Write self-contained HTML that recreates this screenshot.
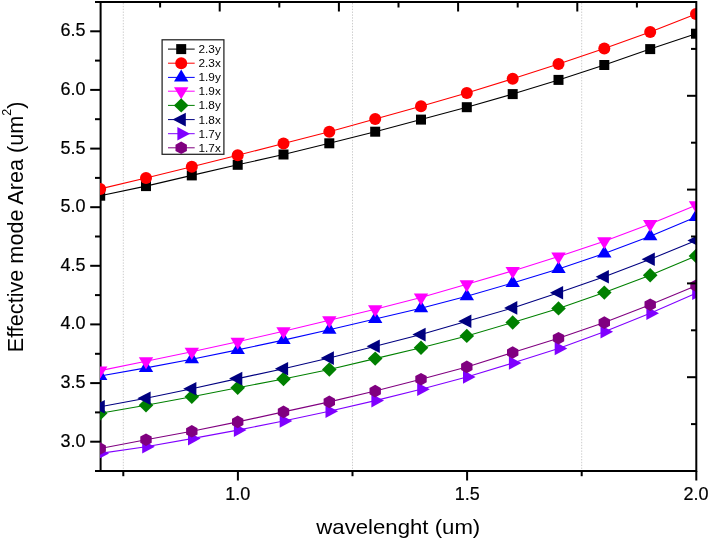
<!DOCTYPE html>
<html><head><meta charset="utf-8"><title>Effective mode area</title>
<style>html,body{margin:0;padding:0;background:#fff}svg{display:block}</style></head>
<body>
<svg width="711" height="541" viewBox="0 0 711 541" font-family="'Liberation Sans', sans-serif">
<rect width="711" height="541" fill="#fff"/>
<defs><clipPath id="pc"><rect x="100" y="2" width="597" height="469"/></clipPath></defs>
<line x1="123.3" y1="3" x2="123.3" y2="470" stroke="#cccccc" stroke-width="1" stroke-dasharray="1.4,1.45"/>
<line x1="352.5" y1="3" x2="352.5" y2="470" stroke="#cccccc" stroke-width="1" stroke-dasharray="1.4,1.45"/>
<line x1="581.7" y1="3" x2="581.7" y2="470" stroke="#cccccc" stroke-width="1" stroke-dasharray="1.4,1.45"/>
<g fill="#000">
<rect x="99.6" y="1" width="2" height="471"/>
<rect x="95" y="470" width="602" height="2"/>
<rect x="90.2" y="440.7" width="10.4" height="2"/>
<rect x="95" y="411.4" width="5.6" height="2"/>
<rect x="90.2" y="382.1" width="10.4" height="2"/>
<rect x="95" y="352.8" width="5.6" height="2"/>
<rect x="90.2" y="323.4" width="10.4" height="2"/>
<rect x="95" y="294.1" width="5.6" height="2"/>
<rect x="90.2" y="264.8" width="10.4" height="2"/>
<rect x="95" y="235.5" width="5.6" height="2"/>
<rect x="90.2" y="206.2" width="10.4" height="2"/>
<rect x="95" y="176.9" width="5.6" height="2"/>
<rect x="90.2" y="147.6" width="10.4" height="2"/>
<rect x="95" y="118.2" width="5.6" height="2"/>
<rect x="90.2" y="88.9" width="10.4" height="2"/>
<rect x="95" y="59.6" width="5.6" height="2"/>
<rect x="90.2" y="30.3" width="10.4" height="2"/>
<rect x="122.3" y="471" width="2" height="5.2"/>
<rect x="236.9" y="471" width="2" height="9.5"/>
<rect x="351.5" y="471" width="2" height="5.2"/>
<rect x="466.1" y="471" width="2" height="9.5"/>
<rect x="580.7" y="471" width="2" height="5.2"/>
<rect x="695.3" y="471" width="2" height="9.5"/>
</g>
<g clip-path="url(#pc)">
<polyline points="100.2,195.7 146.0,186.1 191.8,175.4 237.7,164.8 283.5,154.5 329.3,143.3 375.2,131.7 421.0,119.6 466.8,107.2 512.7,94.1 558.5,79.9 604.3,65.0 650.2,49.1 696.0,33.7" fill="none" stroke="#000000" stroke-width="1.08"/>
<rect x="95.2" y="190.7" width="10" height="10" fill="#000000"/>
<rect x="141.0" y="181.1" width="10" height="10" fill="#000000"/>
<rect x="186.8" y="170.4" width="10" height="10" fill="#000000"/>
<rect x="232.7" y="159.8" width="10" height="10" fill="#000000"/>
<rect x="278.5" y="149.5" width="10" height="10" fill="#000000"/>
<rect x="324.3" y="138.3" width="10" height="10" fill="#000000"/>
<rect x="370.2" y="126.7" width="10" height="10" fill="#000000"/>
<rect x="416.0" y="114.6" width="10" height="10" fill="#000000"/>
<rect x="461.8" y="102.2" width="10" height="10" fill="#000000"/>
<rect x="507.7" y="89.1" width="10" height="10" fill="#000000"/>
<rect x="553.5" y="74.9" width="10" height="10" fill="#000000"/>
<rect x="599.3" y="60.0" width="10" height="10" fill="#000000"/>
<rect x="645.2" y="44.1" width="10" height="10" fill="#000000"/>
<rect x="691.0" y="28.7" width="10" height="10" fill="#000000"/>
<polyline points="100.2,188.9 146.0,178.0 191.8,166.8 237.7,155.2 283.5,143.6 329.3,131.7 375.2,119.0 421.0,106.3 466.8,92.9 512.7,78.8 558.5,64.1 604.3,48.4 650.2,31.9 696.0,13.9" fill="none" stroke="#ff0000" stroke-width="1.08"/>
<circle cx="100.2" cy="188.9" r="6" fill="#ff0000"/>
<circle cx="146.0" cy="178.0" r="6" fill="#ff0000"/>
<circle cx="191.8" cy="166.8" r="6" fill="#ff0000"/>
<circle cx="237.7" cy="155.2" r="6" fill="#ff0000"/>
<circle cx="283.5" cy="143.6" r="6" fill="#ff0000"/>
<circle cx="329.3" cy="131.7" r="6" fill="#ff0000"/>
<circle cx="375.2" cy="119.0" r="6" fill="#ff0000"/>
<circle cx="421.0" cy="106.3" r="6" fill="#ff0000"/>
<circle cx="466.8" cy="92.9" r="6" fill="#ff0000"/>
<circle cx="512.7" cy="78.8" r="6" fill="#ff0000"/>
<circle cx="558.5" cy="64.1" r="6" fill="#ff0000"/>
<circle cx="604.3" cy="48.4" r="6" fill="#ff0000"/>
<circle cx="650.2" cy="31.9" r="6" fill="#ff0000"/>
<circle cx="696.0" cy="13.9" r="6" fill="#ff0000"/>
<polyline points="100.2,376.0 146.0,367.9 191.8,359.2 237.7,349.9 283.5,340.1 329.3,329.8 375.2,319.0 421.0,308.3 466.8,296.2 512.7,283.0 558.5,269.1 604.3,253.5 650.2,236.2 696.0,217.1" fill="none" stroke="#0000ff" stroke-width="1.08"/>
<polygon points="93.0,380.0 107.4,380.0 100.2,368.0" fill="#0000ff"/>
<polygon points="138.8,371.9 153.2,371.9 146.0,359.9" fill="#0000ff"/>
<polygon points="184.6,363.2 199.0,363.2 191.8,351.2" fill="#0000ff"/>
<polygon points="230.5,353.9 244.9,353.9 237.7,341.9" fill="#0000ff"/>
<polygon points="276.3,344.1 290.7,344.1 283.5,332.1" fill="#0000ff"/>
<polygon points="322.1,333.8 336.5,333.8 329.3,321.8" fill="#0000ff"/>
<polygon points="368.0,323.0 382.4,323.0 375.2,311.0" fill="#0000ff"/>
<polygon points="413.8,312.3 428.2,312.3 421.0,300.3" fill="#0000ff"/>
<polygon points="459.6,300.2 474.0,300.2 466.8,288.2" fill="#0000ff"/>
<polygon points="505.5,287.0 519.9,287.0 512.7,275.0" fill="#0000ff"/>
<polygon points="551.3,273.1 565.7,273.1 558.5,261.1" fill="#0000ff"/>
<polygon points="597.1,257.5 611.5,257.5 604.3,245.5" fill="#0000ff"/>
<polygon points="643.0,240.2 657.4,240.2 650.2,228.2" fill="#0000ff"/>
<polygon points="688.8,221.1 703.2,221.1 696.0,209.1" fill="#0000ff"/>
<polyline points="100.2,370.6 146.0,361.3 191.8,351.7 237.7,341.8 283.5,331.2 329.3,320.2 375.2,309.2 421.0,297.4 466.8,284.2 512.7,270.9 558.5,256.6 604.3,241.3 650.2,224.0 696.0,205.2" fill="none" stroke="#ff00ff" stroke-width="1.08"/>
<polygon points="93.0,366.6 107.4,366.6 100.2,378.6" fill="#ff00ff"/>
<polygon points="138.8,357.3 153.2,357.3 146.0,369.3" fill="#ff00ff"/>
<polygon points="184.6,347.7 199.0,347.7 191.8,359.7" fill="#ff00ff"/>
<polygon points="230.5,337.8 244.9,337.8 237.7,349.8" fill="#ff00ff"/>
<polygon points="276.3,327.2 290.7,327.2 283.5,339.2" fill="#ff00ff"/>
<polygon points="322.1,316.2 336.5,316.2 329.3,328.2" fill="#ff00ff"/>
<polygon points="368.0,305.2 382.4,305.2 375.2,317.2" fill="#ff00ff"/>
<polygon points="413.8,293.4 428.2,293.4 421.0,305.4" fill="#ff00ff"/>
<polygon points="459.6,280.2 474.0,280.2 466.8,292.2" fill="#ff00ff"/>
<polygon points="505.5,266.9 519.9,266.9 512.7,278.9" fill="#ff00ff"/>
<polygon points="551.3,252.6 565.7,252.6 558.5,264.6" fill="#ff00ff"/>
<polygon points="597.1,237.3 611.5,237.3 604.3,249.3" fill="#ff00ff"/>
<polygon points="643.0,220.0 657.4,220.0 650.2,232.0" fill="#ff00ff"/>
<polygon points="688.8,201.2 703.2,201.2 696.0,213.2" fill="#ff00ff"/>
<polyline points="100.2,413.2 146.0,405.3 191.8,396.8 237.7,387.8 283.5,379.0 329.3,369.5 375.2,358.6 421.0,347.7 466.8,335.9 512.7,322.5 558.5,308.4 604.3,292.6 650.2,275.2 696.0,256.0" fill="none" stroke="#008000" stroke-width="1.08"/>
<polygon points="92.9,413.2 100.2,406.0 107.5,413.2 100.2,420.4" fill="#008000"/>
<polygon points="138.7,405.3 146.0,398.1 153.3,405.3 146.0,412.5" fill="#008000"/>
<polygon points="184.5,396.8 191.8,389.6 199.1,396.8 191.8,404.0" fill="#008000"/>
<polygon points="230.4,387.8 237.7,380.6 245.0,387.8 237.7,395.0" fill="#008000"/>
<polygon points="276.2,379.0 283.5,371.8 290.8,379.0 283.5,386.2" fill="#008000"/>
<polygon points="322.0,369.5 329.3,362.3 336.6,369.5 329.3,376.7" fill="#008000"/>
<polygon points="367.9,358.6 375.2,351.4 382.5,358.6 375.2,365.8" fill="#008000"/>
<polygon points="413.7,347.7 421.0,340.5 428.3,347.7 421.0,354.9" fill="#008000"/>
<polygon points="459.5,335.9 466.8,328.7 474.1,335.9 466.8,343.1" fill="#008000"/>
<polygon points="505.4,322.5 512.7,315.3 520.0,322.5 512.7,329.7" fill="#008000"/>
<polygon points="551.2,308.4 558.5,301.2 565.8,308.4 558.5,315.6" fill="#008000"/>
<polygon points="597.0,292.6 604.3,285.4 611.6,292.6 604.3,299.8" fill="#008000"/>
<polygon points="642.9,275.2 650.2,268.0 657.5,275.2 650.2,282.4" fill="#008000"/>
<polygon points="688.7,256.0 696.0,248.8 703.3,256.0 696.0,263.2" fill="#008000"/>
<polyline points="100.2,406.8 146.0,398.2 191.8,388.8 237.7,378.6 283.5,368.7 329.3,358.1 375.2,346.3 421.0,334.6 466.8,321.3 512.7,307.9 558.5,292.7 604.3,276.8 650.2,259.3 696.0,240.5" fill="none" stroke="#000080" stroke-width="1.08"/>
<polygon points="91.6,406.8 104.8,400.0 104.8,413.6" fill="#000080"/>
<polygon points="137.4,398.2 150.6,391.4 150.6,405.0" fill="#000080"/>
<polygon points="183.2,388.8 196.4,382.0 196.4,395.6" fill="#000080"/>
<polygon points="229.1,378.6 242.3,371.8 242.3,385.4" fill="#000080"/>
<polygon points="274.9,368.7 288.1,361.9 288.1,375.5" fill="#000080"/>
<polygon points="320.7,358.1 333.9,351.3 333.9,364.9" fill="#000080"/>
<polygon points="366.6,346.3 379.8,339.5 379.8,353.1" fill="#000080"/>
<polygon points="412.4,334.6 425.6,327.8 425.6,341.4" fill="#000080"/>
<polygon points="458.2,321.3 471.4,314.5 471.4,328.1" fill="#000080"/>
<polygon points="504.1,307.9 517.3,301.1 517.3,314.7" fill="#000080"/>
<polygon points="549.9,292.7 563.1,285.9 563.1,299.5" fill="#000080"/>
<polygon points="595.7,276.8 608.9,270.0 608.9,283.6" fill="#000080"/>
<polygon points="641.6,259.3 654.8,252.5 654.8,266.1" fill="#000080"/>
<polygon points="687.4,240.5 700.6,233.7 700.6,247.3" fill="#000080"/>
<polyline points="100.2,453.4 146.0,446.7 191.8,438.6 237.7,430.1 283.5,421.0 329.3,411.2 375.2,400.6 421.0,389.2 466.8,376.9 512.7,363.0 558.5,348.4 604.3,331.8 650.2,313.3 696.0,293.2" fill="none" stroke="#8000ff" stroke-width="1.08"/>
<polygon points="109.0,453.4 96.4,446.6 96.4,460.2" fill="#8000ff"/>
<polygon points="154.8,446.7 142.2,439.9 142.2,453.5" fill="#8000ff"/>
<polygon points="200.6,438.6 188.0,431.8 188.0,445.4" fill="#8000ff"/>
<polygon points="246.5,430.1 233.9,423.3 233.9,436.9" fill="#8000ff"/>
<polygon points="292.3,421.0 279.7,414.2 279.7,427.8" fill="#8000ff"/>
<polygon points="338.1,411.2 325.5,404.4 325.5,418.0" fill="#8000ff"/>
<polygon points="384.0,400.6 371.4,393.8 371.4,407.4" fill="#8000ff"/>
<polygon points="429.8,389.2 417.2,382.4 417.2,396.0" fill="#8000ff"/>
<polygon points="475.6,376.9 463.0,370.1 463.0,383.7" fill="#8000ff"/>
<polygon points="521.5,363.0 508.9,356.2 508.9,369.8" fill="#8000ff"/>
<polygon points="567.3,348.4 554.7,341.6 554.7,355.2" fill="#8000ff"/>
<polygon points="613.1,331.8 600.5,325.0 600.5,338.6" fill="#8000ff"/>
<polygon points="659.0,313.3 646.4,306.5 646.4,320.1" fill="#8000ff"/>
<polygon points="704.8,293.2 692.2,286.4 692.2,300.0" fill="#8000ff"/>
<polyline points="100.2,448.5 146.0,439.7 191.8,431.3 237.7,421.9 283.5,411.9 329.3,401.9 375.2,391.1 421.0,379.2 466.8,366.9 512.7,352.5 558.5,338.2 604.3,322.6 650.2,304.7 696.0,285.7" fill="none" stroke="#800080" stroke-width="1.08"/>
<polygon points="100.2,442.2 105.9,445.4 105.9,451.6 100.2,454.8 94.5,451.6 94.5,445.4" fill="#800080"/>
<polygon points="146.0,433.4 151.7,436.6 151.7,442.8 146.0,446.0 140.3,442.8 140.3,436.6" fill="#800080"/>
<polygon points="191.8,425.0 197.5,428.2 197.5,434.4 191.8,437.6 186.1,434.4 186.1,428.2" fill="#800080"/>
<polygon points="237.7,415.6 243.4,418.8 243.4,425.0 237.7,428.2 232.0,425.0 232.0,418.8" fill="#800080"/>
<polygon points="283.5,405.6 289.2,408.8 289.2,415.0 283.5,418.2 277.8,415.0 277.8,408.8" fill="#800080"/>
<polygon points="329.3,395.6 335.0,398.8 335.0,405.0 329.3,408.2 323.6,405.0 323.6,398.8" fill="#800080"/>
<polygon points="375.2,384.8 380.9,388.0 380.9,394.2 375.2,397.4 369.5,394.2 369.5,388.0" fill="#800080"/>
<polygon points="421.0,372.9 426.7,376.1 426.7,382.3 421.0,385.5 415.3,382.3 415.3,376.1" fill="#800080"/>
<polygon points="466.8,360.6 472.5,363.8 472.5,370.0 466.8,373.2 461.1,370.0 461.1,363.8" fill="#800080"/>
<polygon points="512.7,346.2 518.4,349.4 518.4,355.6 512.7,358.8 507.0,355.6 507.0,349.4" fill="#800080"/>
<polygon points="558.5,331.9 564.2,335.1 564.2,341.3 558.5,344.5 552.8,341.3 552.8,335.1" fill="#800080"/>
<polygon points="604.3,316.3 610.0,319.5 610.0,325.7 604.3,328.9 598.6,325.7 598.6,319.5" fill="#800080"/>
<polygon points="650.2,298.4 655.9,301.6 655.9,307.8 650.2,311.0 644.5,307.8 644.5,301.6" fill="#800080"/>
<polygon points="696.0,279.4 701.7,282.6 701.7,288.8 696.0,292.0 690.3,288.8 690.3,282.6" fill="#800080"/>
</g>
<g fill="#000">
<rect x="695.3" y="1" width="2" height="471"/>
<rect x="95" y="1" width="602" height="2"/>
<rect x="159.1" y="2" width="2" height="5.5"/>
<rect x="218.7" y="2" width="2" height="9.5"/>
<rect x="278.3" y="2" width="2" height="5.5"/>
<rect x="337.9" y="2" width="2" height="9.5"/>
<rect x="397.5" y="2" width="2" height="5.5"/>
<rect x="457.1" y="2" width="2" height="9.5"/>
<rect x="516.7" y="2" width="2" height="5.5"/>
<rect x="576.3" y="2" width="2" height="9.5"/>
<rect x="635.9" y="2" width="2" height="5.5"/>
<rect x="691.0" y="47.9" width="5.3" height="2"/>
<rect x="687.0" y="94.8" width="9.3" height="2"/>
<rect x="691.0" y="141.7" width="5.3" height="2"/>
<rect x="687.0" y="188.6" width="9.3" height="2"/>
<rect x="691.0" y="235.5" width="5.3" height="2"/>
<rect x="687.0" y="282.4" width="9.3" height="2"/>
<rect x="691.0" y="329.3" width="5.3" height="2"/>
<rect x="687.0" y="376.2" width="9.3" height="2"/>
<rect x="691.0" y="423.1" width="5.3" height="2"/>
</g>
<g font-size="18" fill="#000" stroke="#000" stroke-width="0.2">
<text transform="translate(85.6,446.6)" text-anchor="end">3.0</text>
<text transform="translate(85.6,388.0)" text-anchor="end">3.5</text>
<text transform="translate(85.6,329.3)" text-anchor="end">4.0</text>
<text transform="translate(85.6,270.7)" text-anchor="end">4.5</text>
<text transform="translate(85.6,212.1)" text-anchor="end">5.0</text>
<text transform="translate(85.6,153.5)" text-anchor="end">5.5</text>
<text transform="translate(85.6,94.8)" text-anchor="end">6.0</text>
<text transform="translate(85.6,36.2)" text-anchor="end">6.5</text>
<text transform="translate(237.7,500.3)" text-anchor="middle">1.0</text>
<text transform="translate(467.3,500.3)" text-anchor="middle">1.5</text>
<text transform="translate(696.1,500.3)" text-anchor="middle">2.0</text>
</g>
<text transform="translate(398.3,533.5) scale(1.088,1)" font-size="20.4" text-anchor="middle">wavelenght (um)</text>
<text transform="translate(23.2,226.9) rotate(-90)" font-size="21.65" text-anchor="middle">Effective mode Area (um<tspan font-size="12.5" dy="-12">2</tspan><tspan dy="12">)</tspan></text>
<rect x="162.1" y="39.8" width="61.8" height="114.5" fill="#fff" stroke="#222" stroke-width="1.25"/>
<g font-size="11.3" fill="#000">
<line x1="168" y1="49.1" x2="194.7" y2="49.1" stroke="#000000" stroke-width="1"/>
<rect x="176.2" y="44.1" width="10" height="10" fill="#000000"/>
<text transform="translate(198.5,53.1) scale(1.045,1)">2.3y</text>
<line x1="168" y1="63.2" x2="194.7" y2="63.2" stroke="#ff0000" stroke-width="1"/>
<circle cx="181.2" cy="63.2" r="6" fill="#ff0000"/>
<text transform="translate(198.5,67.2) scale(1.045,1)">2.3x</text>
<line x1="168" y1="77.4" x2="194.7" y2="77.4" stroke="#0000ff" stroke-width="1"/>
<polygon points="174.0,81.4 188.4,81.4 181.2,69.4" fill="#0000ff"/>
<text transform="translate(198.5,81.4) scale(1.045,1)">1.9y</text>
<line x1="168" y1="91.2" x2="194.7" y2="91.2" stroke="#ff00ff" stroke-width="1"/>
<polygon points="174.0,87.2 188.4,87.2 181.2,99.2" fill="#ff00ff"/>
<text transform="translate(198.5,95.2) scale(1.045,1)">1.9x</text>
<line x1="168" y1="105.4" x2="194.7" y2="105.4" stroke="#008000" stroke-width="1"/>
<polygon points="173.9,105.4 181.2,98.2 188.5,105.4 181.2,112.6" fill="#008000"/>
<text transform="translate(198.5,109.4) scale(1.045,1)">1.8y</text>
<line x1="168" y1="119.6" x2="194.7" y2="119.6" stroke="#000080" stroke-width="1"/>
<polygon points="172.6,119.6 185.8,112.8 185.8,126.4" fill="#000080"/>
<text transform="translate(198.5,123.6) scale(1.045,1)">1.8x</text>
<line x1="168" y1="133.7" x2="194.7" y2="133.7" stroke="#8000ff" stroke-width="1"/>
<polygon points="190.0,133.7 177.4,126.9 177.4,140.5" fill="#8000ff"/>
<text transform="translate(198.5,137.7) scale(1.045,1)">1.7y</text>
<line x1="168" y1="147.8" x2="194.7" y2="147.8" stroke="#800080" stroke-width="1"/>
<polygon points="181.2,141.5 186.9,144.7 186.9,150.9 181.2,154.1 175.5,150.9 175.5,144.7" fill="#800080"/>
<text transform="translate(198.5,151.8) scale(1.045,1)">1.7x</text>
</g>
</svg>
</body></html>
